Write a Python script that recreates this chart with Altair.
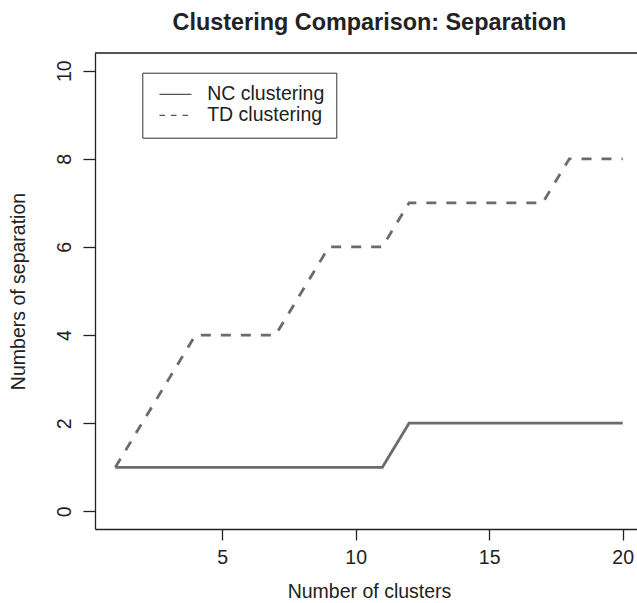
import altair as alt
import pandas as pd

clusters = list(range(1, 21))
nc_sep = [1, 1, 1, 1, 1, 1, 1, 1, 1, 1, 1, 2, 2, 2, 2, 2, 2, 2, 2, 2]
td_sep = [1, 2, 3, 4, 4, 4, 4, 5, 6, 6, 6, 7, 7, 7, 7, 7, 7, 8, 8, 8]
series = ["NC clustering", "TD clustering"]
x_ticks = [5, 10, 15, 20]
y_ticks = [0, 2, 4, 6, 8, 10]

rows = []
for s, vals in zip(series, [nc_sep, td_sep]):
    for c, v in zip(clusters, vals):
        rows.append({"clusters": c, "sep": v, "series": s})
df = pd.DataFrame(rows)

FONT = "Liberation Sans"
TXT = "#222222"
LINE = "#6b6b6b"

W, H = 542, 476

xscale = alt.Scale(domain=[0.24, 20.535], nice=False, zero=False)
yscale = alt.Scale(domain=[-0.4, 10.4], nice=False, zero=False)

xaxis = alt.Axis(
    values=x_ticks, title="Number of clusters", grid=False,
    domainColor="#222", domainWidth=1.3, tickColor="#222", tickWidth=1.3, tickSize=11,
    labelFont=FONT, labelFontSize=19.5, labelColor=TXT, labelPadding=8,
    titleFont=FONT, titleFontSize=19.5, titleColor=TXT, titleFontWeight="normal",
    titleX=274, titleY=68, titleAlign="center", titleBaseline="alphabetic",
)
yaxis = alt.Axis(
    values=y_ticks, title="Numbers of separation", grid=False,
    domainColor="#222", domainWidth=1.3, tickColor="#222", tickWidth=1.3, tickSize=12,
    labelFont=FONT, labelFontSize=19.5, labelColor=TXT, labelAngle=-90,
    labelAlign="center", labelBaseline="alphabetic", labelPadding=13,
    titleFont=FONT, titleFontSize=19.5, titleColor=TXT, titleFontWeight="normal",
    titleAngle=-90, titleX=-71, titleY=238, titleAlign="center", titleBaseline="alphabetic",
)

lines = alt.Chart(df).mark_line(color=LINE, strokeWidth=2.8, clip=True).encode(
    x=alt.X("clusters:Q", scale=xscale, axis=xaxis),
    y=alt.Y("sep:Q", scale=yscale, axis=yaxis),
    strokeDash=alt.StrokeDash(
        "series:N",
        scale=alt.Scale(domain=series, range=[[1, 0], [10, 10]]),
        legend=None,
    ),
    detail="series:N",
)

legend_layer = alt.Chart(df).transform_filter("datum.clusters < 0").mark_line(
    color="#555555", strokeWidth=1.2
).encode(
    x=alt.X("clusters:Q", scale=xscale),
    y=alt.Y("sep:Q", scale=yscale),
    strokeDash=alt.StrokeDash(
        "series:N",
        scale=alt.Scale(domain=series, range=[[1, 0], [5.5, 6]]),
        legend=alt.Legend(
            title=None, orient="none", legendX=47.3, legendY=19.7,
            strokeColor="#333", padding=12, symbolOffset=3.4,
            symbolType="M-1,0H3", symbolSize=256, symbolStrokeWidth=1.2,
            symbolStrokeColor="#555555", symbolFillColor="transparent",
            labelFont=FONT, labelFontSize=19.5, labelColor=TXT, labelOffset=30,
            rowPadding=0, labelLimit=400,
        ),
    ),
)

top_rule = alt.Chart(df).transform_filter("datum.clusters == 1 && datum.series == 'NC clustering'").mark_rule(
    color="#222", strokeWidth=1.3
).encode(x=alt.value(0), x2=alt.value(W), y=alt.value(0))

chart = alt.layer(lines, legend_layer, top_rule).resolve_scale(
    strokeDash="independent"
).properties(
    width=W, height=H,
    title=alt.Title(
        "Clustering Comparison: Separation", font=FONT, fontSize=23.4, fontWeight="bold",
        color=TXT, anchor="middle", baseline="alphabetic", offset=23, dx=3.5, dy=24,
    ),
    autosize=alt.AutoSizeParams(type="none"),
    padding={"left": 95, "top": 53, "right": 0, "bottom": 74},
).configure_view(stroke=None).configure(background="white")

chart.save("out.html", embed_options={"renderer": "svg", "actions": False})
